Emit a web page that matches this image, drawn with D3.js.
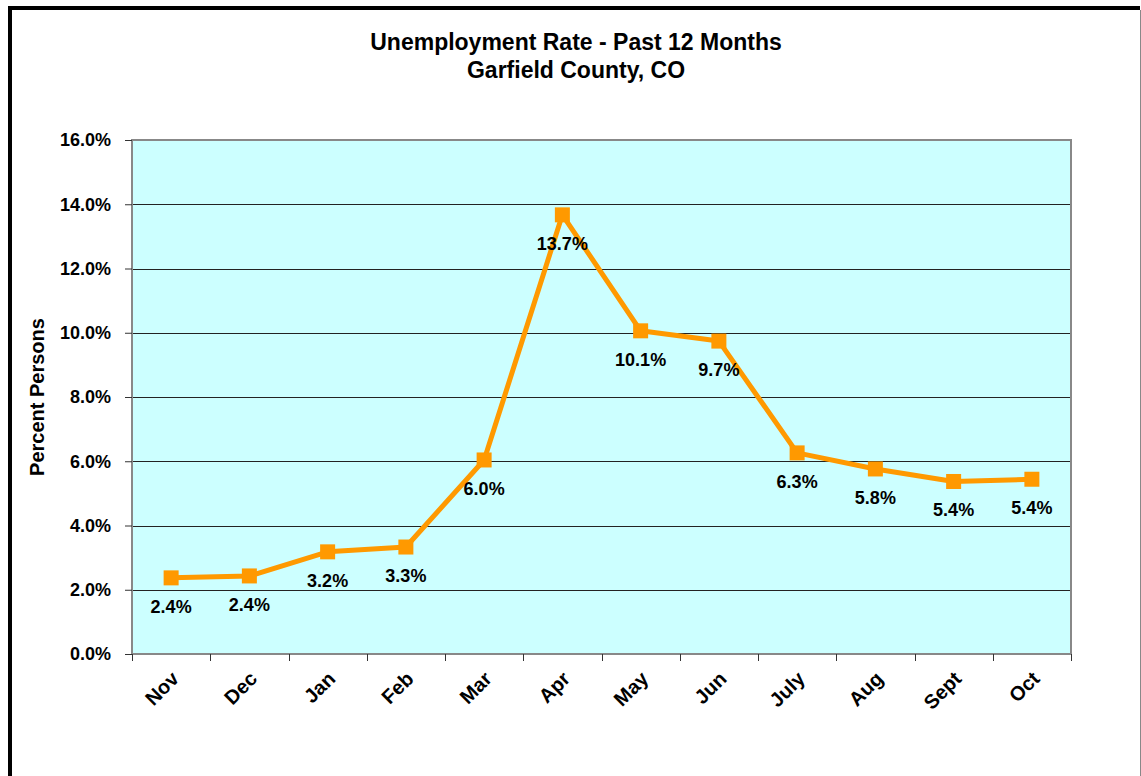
<!DOCTYPE html>
<html>
<head>
<meta charset="utf-8">
<script src="https://cdn.jsdelivr.net/npm/d3@7"></script>
<style>
  html, body { margin: 0; padding: 0; background: #fff; }
  svg { display: block; font-family: "Liberation Sans", Arial, sans-serif; }
</style>
</head>
<body>
<svg id="chart" width="1141" height="776"></svg>
<script>
// Monthly unemployment rate, Garfield County, CO
const months = ["Nov", "Dec", "Jan", "Feb", "Mar", "Apr", "May", "Jun", "July", "Aug", "Sept", "Oct"];
const rates = [0.0237, 0.0243, 0.0318, 0.0333, 0.0604, 0.1367, 0.1006, 0.0974, 0.0626, 0.0576, 0.0537, 0.0544];
const yTicks = [0, 0.02, 0.04, 0.06, 0.08, 0.10, 0.12, 0.14, 0.16];
const titleLines = ["Unemployment Rate - Past 12 Months", "Garfield County, CO"];
const yTitle = "Percent Persons";

const svg = d3.select("#chart");
const plot = { left: 132, top: 140, right: 1071, bottom: 654 };

// Outer frame
svg.append("rect").attr("x", 0).attr("y", 0).attr("width", 1141).attr("height", 776).attr("fill", "#fff");
svg.append("path")
  .attr("d", "M10,776 L10,8 L1140,8")
  .attr("fill", "none").attr("stroke", "#000").attr("stroke-width", 4);
svg.append("line").attr("x1", 1140.5).attr("x2", 1140.5).attr("y1", 10).attr("y2", 776)
  .attr("stroke", "#888").attr("stroke-width", 1);

const x = d3.scaleBand().domain(months).range([plot.left, plot.right]).padding(0);
const y = d3.scaleLinear().domain([0, 0.16]).range([plot.bottom, plot.top]);
const pct = d3.format(".1%");

// Plot area background
svg.append("rect")
  .attr("x", plot.left).attr("y", plot.top)
  .attr("width", plot.right - plot.left).attr("height", plot.bottom - plot.top)
  .attr("fill", "#CCFFFF");

// Horizontal gridlines
svg.append("g").selectAll("line")
  .data(yTicks.filter(t => t > 0 && t < 0.16))
  .join("line")
  .attr("x1", plot.left).attr("x2", plot.right)
  .attr("y1", d => Math.round(y(d)) + 0.5).attr("y2", d => Math.round(y(d)) + 0.5)
  .attr("stroke", "#222").attr("stroke-width", 1);

// Plot border
svg.append("rect")
  .attr("x", plot.left).attr("y", plot.top)
  .attr("width", plot.right - plot.left).attr("height", plot.bottom - plot.top)
  .attr("fill", "none").attr("stroke", "#888").attr("stroke-width", 2);

// Y axis
const yAxis = svg.append("g")
  .attr("transform", `translate(${plot.left},0)`)
  .call(d3.axisLeft(y).tickValues(yTicks).tickFormat(pct).tickSize(7).tickPadding(14));
yAxis.select(".domain").remove();
yAxis.selectAll(".tick line").attr("stroke", "#333");
yAxis.selectAll(".tick text")
  .attr("font-size", 18).attr("font-weight", "bold").attr("fill", "#000")
  .attr("font-family", "Liberation Sans, Arial, sans-serif");

// X axis with ticks between categories
const xAxisG = svg.append("g").attr("transform", `translate(0,${plot.bottom})`);
const bounds = months.map(m => x(m)).concat([plot.right]);
xAxisG.selectAll("line.tk")
  .data(bounds)
  .join("line")
  .attr("class", "tk")
  .attr("x1", d => Math.round(d) + 0.5).attr("x2", d => Math.round(d) + 0.5)
  .attr("y1", 0).attr("y2", 7)
  .attr("stroke", "#333");
xAxisG.selectAll("text")
  .data(months)
  .join("text")
  .attr("transform", d => `translate(${x(d) + x.bandwidth() / 2 + 9},${26}) rotate(-45)`)
  .attr("text-anchor", "end")
  .attr("font-size", 20).attr("font-weight", "bold").attr("fill", "#000")
  .text(d => d);

// Series line
const pts = months.map((m, i) => ({ m, v: rates[i] }));
svg.append("path")
  .datum(pts)
  .attr("fill", "none")
  .attr("stroke", "#FF9900")
  .attr("stroke-width", 5)
  .attr("stroke-linejoin", "round")
  .attr("d", d3.line().x(d => x(d.m) + x.bandwidth() / 2).y(d => y(d.v)));

// Square markers
const ms = 15;
svg.append("g").selectAll("rect")
  .data(pts)
  .join("rect")
  .attr("x", d => x(d.m) + x.bandwidth() / 2 - ms / 2)
  .attr("y", d => y(d.v) - ms / 2)
  .attr("width", ms).attr("height", ms)
  .attr("fill", "#FF9900");

// Value labels
svg.append("g").selectAll("text")
  .data(pts)
  .join("text")
  .attr("x", d => x(d.m) + x.bandwidth() / 2)
  .attr("y", d => y(d.v) + 35)
  .attr("text-anchor", "middle")
  .attr("font-size", 18).attr("font-weight", "bold").attr("fill", "#000")
  .text(d => pct(d.v));

// Titles
svg.append("g").selectAll("text")
  .data(titleLines)
  .join("text")
  .attr("x", 576)
  .attr("y", (d, i) => 50 + i * 28)
  .attr("text-anchor", "middle")
  .attr("font-size", 23).attr("font-weight", "bold").attr("fill", "#000")
  .text(d => d);

svg.append("text")
  .attr("transform", `translate(44,${(plot.top + plot.bottom) / 2}) rotate(-90)`)
  .attr("text-anchor", "middle")
  .attr("font-size", 20).attr("font-weight", "bold").attr("fill", "#000")
  .text(yTitle);
</script>
</body>
</html>
